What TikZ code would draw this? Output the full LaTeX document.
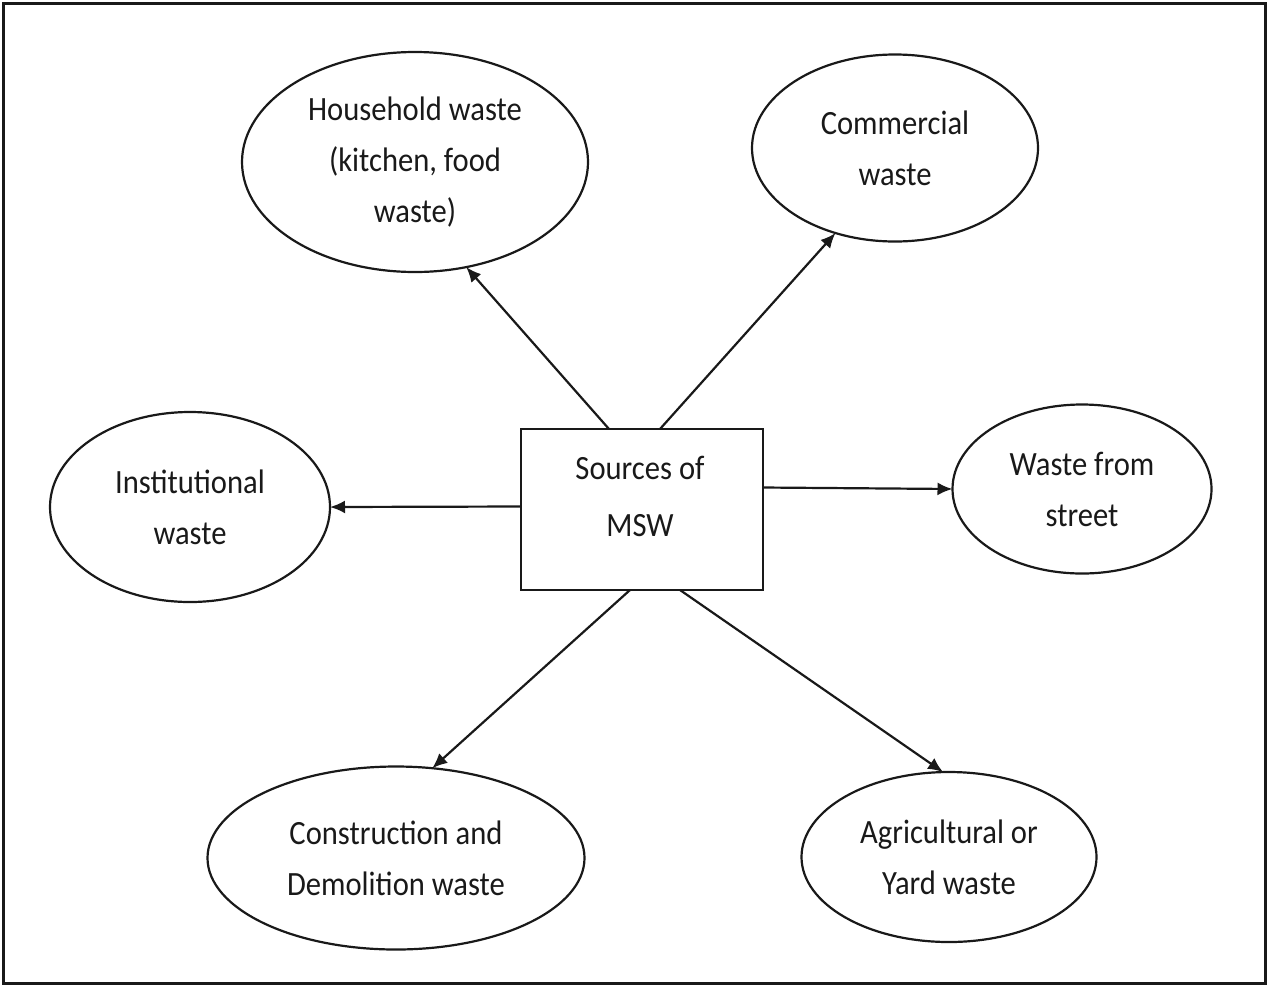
\documentclass[tikz,border=0pt]{standalone}
\usepackage{fontspec}
\setmainfont{Carlito}[FakeStretch=0.9]
\usetikzlibrary{shapes.geometric,arrows.meta,calc}

\tikzset{
  txt/.style={font=\fontsize{34}{51}\selectfont, align=center, text=black!90},
  src/.style={ellipse, draw=black!90, line width=2.2pt, inner sep=0pt, outer sep=0pt},
  hub/.style={rectangle, draw=black!90, line width=2.2pt, inner sep=0pt, outer sep=0pt,
              minimum width=242pt, minimum height=161pt},
  flow/.style={draw=black!90, line width=2.2pt, -{Latex[length=15pt,width=13pt]}},
}

\begin{document}
\begin{tikzpicture}[x=1pt,y=-1pt]
  \useasboundingbox (0,0) rectangle (1268,986);
  % outer frame
  \draw[line width=3pt, black!90] (3,3) rectangle (1265.5,983.5);

  % central box
  \node[hub] (box) at (642,509.5) {};
  \node[txt, font=\fontsize{34}{57}\selectfont] (boxtext) at (640,496) {Sources of\\MSW};

  % surrounding sources
  \node[src, minimum width=346pt, minimum height=220pt, txt] (hh)  at (415,162)  {Household waste\\(kitchen, food\\waste)};
  \node[src, minimum width=286pt, minimum height=187pt, txt] (com) at (895,148)  {Commercial\\waste};
  \node[src, minimum width=280pt, minimum height=190pt, txt] (ins) at (190,507)  {Institutional\\waste};
  \node[src, minimum width=259pt, minimum height=169pt, txt] (str) at (1082,489) {Waste from\\street};
  \node[src, minimum width=377pt, minimum height=183pt, txt] (con) at (396,858)  {Construction and\\Demolition waste};
  \node[src, minimum width=295pt, minimum height=170pt, txt] (agr) at (949,857)  {Agricultural or\\Yard waste};

  % connectors
  \draw[flow] ($(box.north)+(-33,0)$) -- (hh.-64.5);
  \draw[flow] ($(box.north)+(18,0)$)  -- (com.-125);
  \draw[flow] ($(box.west)+(0,-3)$)   -- (ins.east);
  \draw[flow] ($(box.east)+(0,-22)$)  -- (str.west);
  \draw[flow] ($(box.south)+(-12,0)$) -- (con.68);
  \draw[flow] ($(box.south)+(38,0)$)  -- (agr.94.6);
\end{tikzpicture}
\end{document}
